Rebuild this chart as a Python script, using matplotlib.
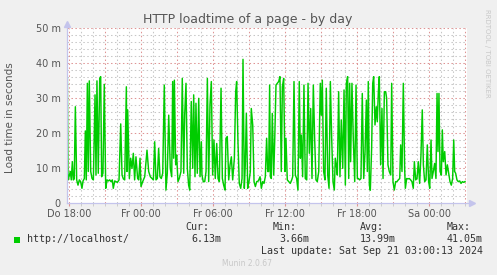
import matplotlib
matplotlib.use("Agg")
import matplotlib.pyplot as plt
import numpy as np
from matplotlib.patches import Rectangle

# ---- data (hours relative to Thu 18:00, load time in ms) ----
hours = [
    -0.17, -0.14, -0.08, 0.00, 0.11, 0.19, 0.28, 0.36, 0.44, 0.53, 0.64, 0.75, 0.86, 0.97,
    1.08, 1.17, 1.28, 1.36, 1.44, 1.53, 1.61, 1.69, 1.81, 1.92, 2.03, 2.17, 2.25, 2.33,
    2.44, 2.56, 2.64, 2.72, 2.83, 2.94, 3.06, 3.17, 3.28, 3.39, 3.50, 3.61, 3.69, 3.81,
    3.92, 4.03, 4.17, 4.31, 4.42, 4.53, 4.64, 4.78, 4.83, 4.89, 5.03, 5.14, 5.25, 5.36,
    5.47, 5.58, 5.72, 5.81, 5.92, 6.00, 6.14, 6.31, 6.50, 6.64, 6.78, 6.92, 7.03, 7.14,
    7.25, 7.36, 7.47, 7.58, 7.69, 7.81, 7.94, 8.08, 8.19, 8.31, 8.44, 8.56, 8.64, 8.72,
    8.78, 8.89, 8.97, 9.08, 9.19, 9.33, 9.44, 9.56, 9.64, 9.75, 9.86, 9.97, 10.06, 10.19,
    10.31, 10.39, 10.50, 10.58, 10.69, 10.81, 10.92, 11.03, 11.08, 11.19, 11.31, 11.42,
    11.53, 11.64, 11.75, 11.86, 11.97, 12.08, 12.19, 12.31, 12.42, 12.53, 12.67, 12.78,
    12.89, 13.00, 13.08, 13.19, 13.31, 13.42, 13.53, 13.64, 13.78, 13.89, 13.97, 14.08,
    14.19, 14.31, 14.42, 14.50, 14.61, 14.69, 14.78, 14.89, 15.00, 15.11, 15.19, 15.31,
    15.42, 15.53, 15.64, 15.78, 15.92, 16.03, 16.14, 16.25, 16.36, 16.47, 16.56, 16.64,
    16.72, 16.78, 16.86, 16.94, 17.06, 17.14, 17.25, 17.36, 17.47, 17.58, 17.69, 17.78,
    17.89, 18.00, 18.08, 18.19, 18.31, 18.44, 18.56, 18.64, 18.75, 18.86, 18.97, 19.08,
    19.19, 19.28, 19.36, 19.47, 19.58, 19.69, 19.81, 19.92, 20.03, 20.14, 20.25, 20.36,
    20.47, 20.58, 20.69, 20.81, 20.94, 21.03, 21.11, 21.22, 21.33, 21.44, 21.56, 21.67,
    21.78, 21.89, 22.00, 22.11, 22.19, 22.31, 22.36, 22.47, 22.58, 22.69, 22.81, 22.92,
    23.03, 23.11, 23.22, 23.31, 23.39, 23.47, 23.58, 23.69, 23.81, 23.92, 24.03, 24.11,
    24.22, 24.33, 24.44, 24.56, 24.67, 24.78, 24.86, 24.94, 25.03, 25.11, 25.22, 25.31,
    25.39, 25.50, 25.61, 25.69, 25.78, 25.86, 25.97, 26.08, 26.17, 26.28, 26.39, 26.47,
    26.58, 26.69, 26.81, 26.89, 27.00, 27.11, 27.22, 27.33, 27.44, 27.56, 27.64, 27.75,
    27.86, 27.97, 28.03, 28.14, 28.25, 28.36, 28.47, 28.58, 28.69, 28.78, 28.89, 29.00,
    29.11, 29.22, 29.33, 29.44, 29.53, 29.64, 29.75, 29.86, 29.97, 30.06, 30.17, 30.25,
    30.36, 30.47, 30.58, 30.67, 30.75, 30.83, 30.92, 31.03, 31.11, 31.19, 31.31, 31.42,
    31.53, 31.64, 31.75, 31.86, 31.97, 32.06, 32.14, 32.22, 32.33, 32.44, 32.56, 32.67,
    32.78, 32.89, 33.00,
]
load_ms = [
    7.0, 35.8, 6.6, 7.5, 9.0, 6.6, 11.8, 6.6, 6.9, 27.5, 6.6, 5.1, 6.6, 6.1,
    4.2, 6.3, 7.0, 20.6, 6.6, 34.2, 9.0, 34.9, 9.0, 7.0, 6.6, 30.9, 8.0, 34.9,
    8.5, 35.6, 36.1, 7.5, 8.5, 33.9, 4.2, 6.6, 6.3, 6.6, 6.1, 6.6, 4.2, 6.3,
    6.1, 5.9, 6.6, 22.6, 8.0, 6.9, 6.6, 33.2, 9.0, 26.6, 7.0, 12.8, 9.9, 14.2,
    6.6, 13.2, 7.0, 6.6, 12.8, 4.7, 6.1, 7.5, 15.1, 9.0, 7.5, 7.0, 6.6, 17.5,
    6.6, 7.0, 15.6, 7.5, 7.0, 8.5, 33.7, 3.7, 8.5, 25.1, 9.9, 7.5, 34.7, 12.8,
    35.1, 10.9, 13.7, 6.1, 7.0, 9.0, 35.6, 8.5, 25.1, 34.2, 9.9, 5.1, 3.7, 29.0,
    9.9, 30.9, 7.5, 28.5, 8.5, 29.9, 7.5, 17.5, 8.0, 6.1, 6.1, 9.0,
    35.6, 6.1, 28.0, 34.7, 8.0, 18.0, 7.0, 17.0, 7.0, 6.1, 32.8, 7.0,
    5.1, 3.7, 18.5, 19.0, 6.6, 10.9, 13.2, 6.6, 12.8, 31.8, 34.7, 17.5,
    5.6, 4.2, 7.0, 41.05, 4.2, 10.9, 25.6, 4.2, 6.1, 9.0, 27.0, 22.3,
    6.1, 4.7, 6.1, 6.3, 7.5, 4.2, 6.1, 5.6, 7.5, 18.5, 9.0, 9.0,
    33.7, 7.5, 7.0, 25.6, 8.0, 17.5, 33.7, 34.2, 34.7, 36.1, 9.0, 33.2,
    35.6, 9.0, 18.5, 6.6, 6.1, 5.6, 6.6, 7.5, 34.7, 8.0, 7.0, 3.7,
    34.7, 12.8, 19.4, 7.5, 33.7, 7.0, 6.6, 34.2, 14.2, 27.0, 7.0, 33.7,
    18.5, 6.6, 6.1, 9.0, 34.2, 25.1, 35.1, 9.0, 6.6, 32.8, 8.0, 4.2,
    34.7, 18.5, 6.1, 3.7, 12.8, 9.9, 8.0, 31.8, 7.5, 23.7, 9.9, 32.3,
    5.1, 34.2, 36.1, 7.0, 34.2, 11.8, 34.2, 18.5, 6.1, 33.7, 7.0, 7.0,
    6.6, 7.0, 31.3, 7.0, 14.7, 29.4, 9.0, 34.7, 5.1, 3.66, 15.6, 34.2,
    36.1, 22.3, 27.5, 23.2, 31.8, 36.1, 10.9, 27.0, 7.0, 31.8, 31.8, 29.9,
    10.9, 9.0, 8.0, 34.2, 6.1, 3.7, 6.1, 6.1, 6.6, 7.0, 16.6, 9.0,
    34.2, 9.9, 4.2, 7.0, 6.9, 7.0, 6.6, 6.1, 4.2, 11.8, 6.6, 7.0,
    11.8, 5.6, 13.7, 26.6, 10.9, 6.1, 6.6, 16.6, 6.1, 4.2, 18.0, 7.0,
    9.0, 11.3, 7.0, 31.3, 14.7, 31.3, 9.0, 8.0, 20.9, 11.8, 14.7, 8.0,
    10.9, 8.5, 6.1, 5.1, 7.0, 18.0, 9.0, 8.5, 6.6, 6.1, 6.3, 5.6,
    6.1, 5.9, 6.13,
]
x_tick_hours = [0, 6, 12, 18, 24, 30]
x_tick_labels = ["Do 18:00", "Fr 00:00", "Fr 06:00", "Fr 12:00", "Fr 18:00", "Sa 00:00"]
y_ticks = [0, 10, 20, 30, 40, 50]
y_tick_labels = ["0", "10 m", "20 m", "30 m", "40 m", "50 m"]
title = "HTTP loadtime of a page - by day"
y_label = "Load time in seconds"
series_name = "http://localhost/"
stat_names = ["Cur:", "Min:", "Avg:", "Max:"]
stat_values = ["6.13m", "3.66m", "13.99m", "41.05m"]
last_update = "Last update: Sat Sep 21 03:00:13 2024"
footer = "Munin 2.0.67"
watermark = "RRDTOOL / TOBI OETIKER"

# ---- figure ----
W, H = 497, 275
fig = plt.figure(figsize=(W / 100, H / 100), dpi=100, facecolor="#F0F0F0")
ax = fig.add_axes([67 / W, 72 / H, 400 / W, 175 / H])
ax.set_facecolor("white")
ax.set_xlim(-2 / 12, 398 / 12)
ax.set_ylim(0, 50)

major_c = "#DE9494"
minor_c = "#C6C6C6"
dots = (0, (1.4, 2.4))
for h in np.arange(0, 34):
    ax.axvline(h, color=major_c if h % 3 == 0 else minor_c, lw=0.75, ls=dots, zorder=1)
for v in np.arange(2, 51, 2):
    ax.axhline(v, color=major_c if v % 10 == 0 else minor_c, lw=0.75, ls=dots, zorder=1)

ax.plot(hours, load_ms, color="#00CC00", lw=1.05, zorder=3)

for s in ax.spines.values():
    s.set_visible(False)

axis_c = "#C4C4EC"
ax.plot([0, 0], [0, 1.015], transform=ax.transAxes, color=axis_c, lw=0.9, clip_on=False, zorder=4)
ax.plot([0], [1.025], transform=ax.transAxes, marker="^", ms=4, color=axis_c, clip_on=False, zorder=4)
ax.plot([0, 1.005], [0, 0], transform=ax.transAxes, color=axis_c, lw=0.9, clip_on=False, zorder=4)
ax.plot([1.012], [0], transform=ax.transAxes, marker=">", ms=4, color=axis_c, clip_on=False, zorder=4)

ax.set_xticks(x_tick_hours, x_tick_labels)
ax.set_xticks(np.arange(0, 34), minor=True)
ax.set_yticks(y_ticks, y_tick_labels)
ax.tick_params(axis="x", which="major", length=2, color=major_c, pad=2.5,
               labelsize=7, labelcolor="#555555")
ax.tick_params(axis="x", which="minor", length=2, color=minor_c)
ax.tick_params(axis="y", length=0, pad=4.5, labelsize=7, labelcolor="#555555")

fig.text(248 / W, 1 - 19 / H, title, ha="center", va="center", fontsize=9, color="#555555")
fig.text(10 / W, 1 - 118 / H, y_label, ha="center", va="center", rotation=90,
         fontsize=7.5, color="#555555")

fig.add_artist(Rectangle((14 / W, 1 - 242.5 / H), 5.5 / W, 5.5 / H, transform=fig.transFigure,
                         facecolor="#00CC00", edgecolor="none"))
mono = dict(family="DejaVu Sans Mono", fontsize=7.2, color="#333333", va="center", ha="left")
fig.text(27 / W, 1 - 239.5 / H, series_name, **mono)
name_x = [185, 273, 360, 447]
val_x = [191, 279, 360, 447]
for nx, vx, n, v in zip(name_x, val_x, stat_names, stat_values):
    fig.text(nx / W, 1 - 227.5 / H, n, **mono)
    fig.text(vx / W, 1 - 239.5 / H, v, **mono)
fig.text(261 / W, 1 - 251 / H, last_update, **mono)

fig.text(247.5 / W, 1 - 264 / H, footer, ha="center", va="center", fontsize=5.5, color="#C8C8C8")
fig.text(487.5 / W, 1 - 53 / H, watermark, ha="center", va="center", rotation=270,
         fontsize=5, color="#C8C8C8")

fig.savefig("out.png", dpi=100, facecolor=fig.get_facecolor())
